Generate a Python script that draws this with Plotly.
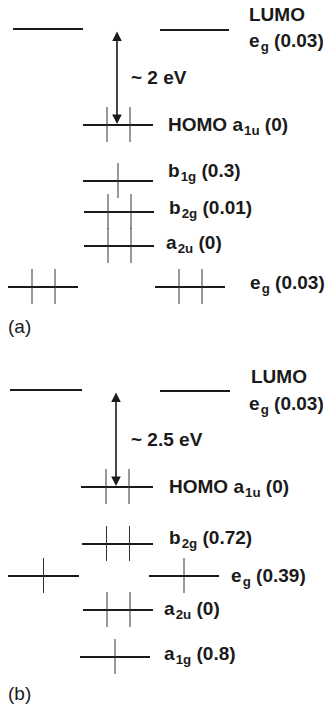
import plotly.graph_objects as go

W, H = 327, 706

# ---------------- data (schematic orbital energy diagram, diagram units) ----------------
# Panel (a)
a_names     = ["LUMO e_g", "LUMO e_g", "HOMO a1u", "b1g", "b2g", "a2u", "e_g", "e_g"]
a_energy    = [29, 30, 125, 181, 212, 246, 287, 287]
a_x0        = [13, 160, 83, 83, 84, 84, 8, 155]
a_x1        = [83, 229, 153, 153, 154, 154, 78, 225]
a_electrons = [0, 0, 2, 1, 2, 2, 2, 2]

# Panel (b)
b_names     = ["LUMO e_g", "LUMO e_g", "HOMO a1u", "b2g", "e_g", "e_g", "a2u", "a1g"]
b_energy    = [390, 391, 487, 544, 576, 576, 610, 657]
b_x0        = [10, 160, 81, 82, 8, 149, 83, 80]
b_x1        = [82, 230, 153, 153, 79, 219, 153, 150]
b_electrons = [0, 0, 2, 2, 1, 1, 2, 1]

S = "\u200a"  # hair space before subscripts

# Labels: (text, x, y)
a_labels = [
    ("<b>LUMO</b>", 247, 14),
    (f"<b>e<sub>{S}g</sub> (0.03)</b>", 247, 42),
    ("<b>~ 2 eV</b>", 129, 77),
    (f"<b>HOMO a<sub>{S}1u</sub> (0)</b>", 166, 126),
    (f"<b>b<sub>{S}1g</sub> (0.3)</b>", 166, 172),
    (f"<b>b<sub>{S}2g</sub> (0.01)</b>", 167, 209),
    (f"<b>a<sub>{S}2u</sub> (0)</b>", 164, 244),
    (f"<b>e<sub>{S}g</sub> (0.03)</b>", 248, 284),
    ("(a)", 6, 326),
]
b_labels = [
    ("<b>LUMO</b>", 249, 376),
    (f"<b>e<sub>{S}g</sub> (0.03)</b>", 247, 405),
    ("<b>~ 2.5 eV</b>", 129, 439),
    (f"<b>HOMO a<sub>{S}1u</sub> (0)</b>", 167, 488),
    (f"<b>b<sub>{S}2g</sub> (0.72)</b>", 167, 539),
    (f"<b>e<sub>{S}g</sub> (0.39)</b>", 229, 577),
    (f"<b>a<sub>{S}2u</sub> (0)</b>", 162, 610),
    (f"<b>a<sub>{S}1g</sub> (0.8)</b>", 162, 655),
    ("(b)", 6, 693),
]

# Gap arrows drawn at these x positions (diagram units)
a_gap_x = 117
b_gap_x = 116

# ---------------- build figure ----------------
fig = go.Figure()


def add_panel(energy, x0, x1, electrons):
    lx, ly = [], []
    for e, s, t in zip(energy, x0, x1):
        lx += [s, t, None]
        ly += [e, e, None]
    fig.add_trace(go.Scatter(x=lx, y=ly, mode="lines",
                             line=dict(color="#1a1a1a", width=2.2),
                             hoverinfo="skip", showlegend=False))
    ex, ey = [], []
    for e, s, t, n in zip(energy, x0, x1, electrons):
        c = (s + t) / 2
        if n == 1:
            pos = [c]
        elif n == 2:
            pos = [c - 11, c + 12]
        else:
            pos = []
        for p in pos:
            ex += [p, p, None]
            ey += [e - 18, e + 17, None]
    fig.add_trace(go.Scatter(x=ex, y=ey, mode="lines",
                             line=dict(color="#333333", width=1),
                             hoverinfo="skip", showlegend=False))


add_panel(a_energy, a_x0, a_x1, a_electrons)
add_panel(b_energy, b_x0, b_x1, b_electrons)

annotations = []
for txt, x, y in a_labels + b_labels:
    annotations.append(dict(x=x, y=y, xref="x", yref="y", text=txt,
                            showarrow=False, xanchor="left", yanchor="middle",
                            align="left",
                            font=dict(family="Liberation Sans, Arial", size=19,
                                      color="#1a1a1a")))

for gx, energy in ((a_gap_x, a_energy), (b_gap_x, b_energy)):
    annotations.append(dict(x=gx, y=energy[2] - 1, ax=gx, ay=energy[0] + 1,
                            xref="x", yref="y", axref="x", ayref="y",
                            text="", showarrow=True, arrowhead=2,
                            arrowside="end+start", arrowsize=1.2,
                            arrowwidth=1.6, arrowcolor="#1a1a1a",
                            standoff=0, startstandoff=0))

fig.update_layout(
    width=W, height=H,
    margin=dict(l=0, r=0, t=0, b=0),
    paper_bgcolor="white", plot_bgcolor="white",
    xaxis=dict(range=[0, W], visible=False, fixedrange=True),
    yaxis=dict(range=[H, 0], visible=False, fixedrange=True),
    annotations=annotations,
    showlegend=False,
)

fig.write_html("out.html")
